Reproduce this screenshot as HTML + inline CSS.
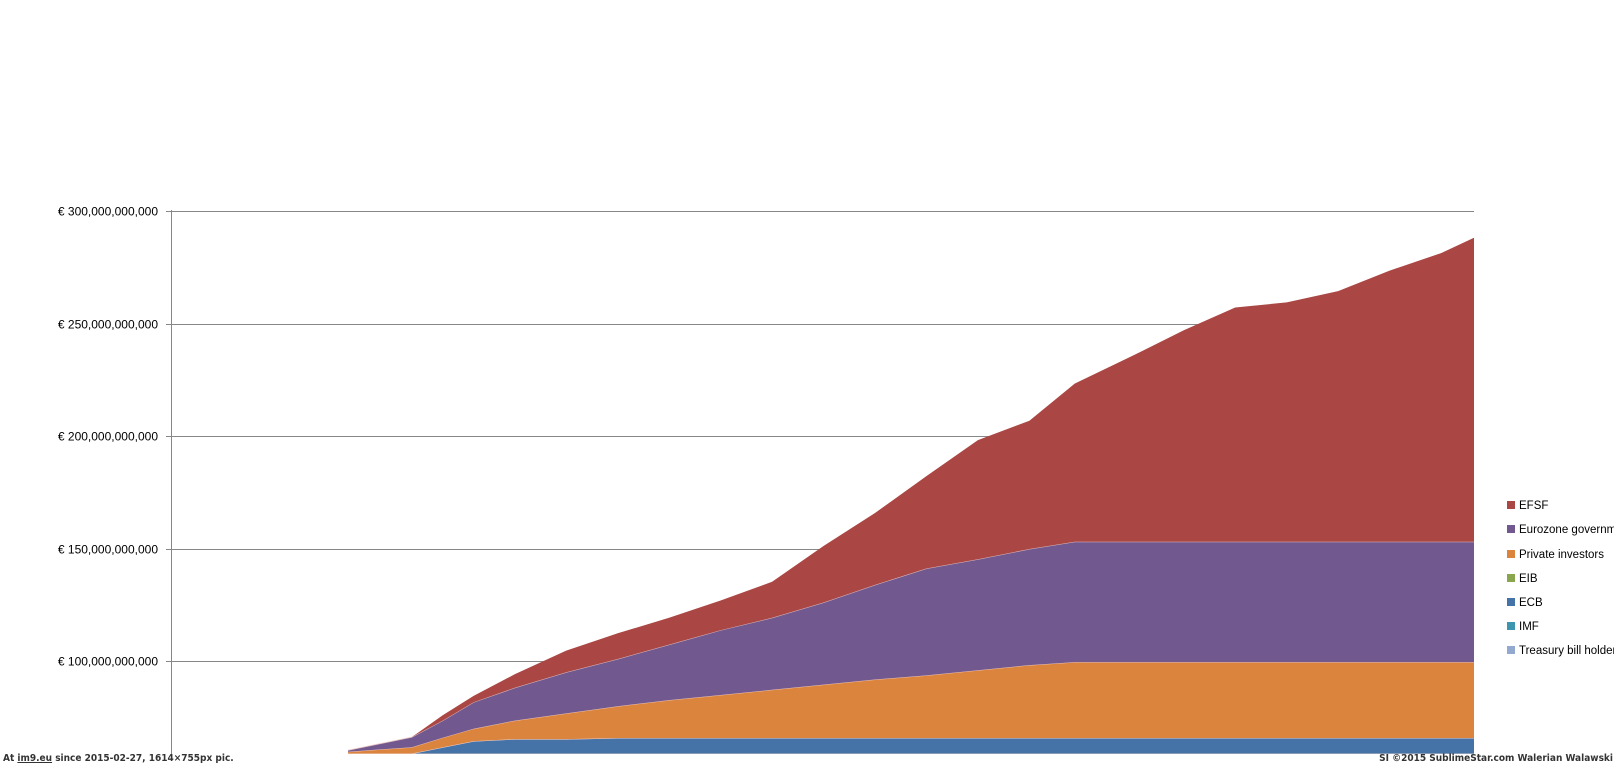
<!DOCTYPE html>
<html><head><meta charset="utf-8">
<style>
html,body{margin:0;padding:0;background:#fff;width:1614px;height:767px;overflow:hidden;}
body{position:relative;font-family:"Liberation Sans",sans-serif;}
svg{position:absolute;left:0;top:0;overflow:hidden;}
.foot{position:absolute;font:bold 10px "DejaVu Sans Condensed","Liberation Sans",sans-serif;color:#333;top:753px;height:12px;line-height:12px;white-space:nowrap;overflow:hidden;}
</style></head>
<body>
<svg id="chart" width="1614" height="767"></svg>
<div class="foot" style="left:3px">At <u>im9.eu</u> since 2015-02-27, 1614×755px pic.</div>
<div class="foot" style="right:1px">SI ©2015 SublimeStar.com Walerian Walawski</div>
<script>
// x positions in time (index units 0..1094)
const tIndex = [0,62,92,122,162,212,262,312,362,412,462,512,562,612,662,706,762,812,862,912,962,1012,1062,1094];
const treasury = [30,30,30,30,30,30,30,30,30,30,30,30,30,30,30,30,30,30,30,30,30,30,30,30];
const imf      = [28.9,28.9,28.9,28.9,28.9,28.9,28.9,28.9,28.9,28.9,28.9,28.9,28.9,28.9,28.9,28.9,28.9,28.9,28.9,28.9,28.9,28.9,28.9,28.9];
const ecb      = [0,0,2.8,5.5,6.4,6.4,6.9,6.9,6.9,6.9,6.9,6.9,6.9,6.9,6.9,6.9,6.9,6.9,6.9,6.9,6.9,6.9,6.9,6.9];
const eib      = [0,0,0,0,0,0,0,0,0,0,0,0,0,0,0,0,0,0,0,0,0,0,0,0];
const privateInv=[0.8,2.8,4.2,5.5,8.2,11.4,14.1,16.8,19.1,21.4,23.7,26.0,27.8,30.1,32.4,33.7,33.7,33.7,33.7,33.7,33.7,33.7,33.7,33.7];
const eurozone = [0.6,4.5,7.6,11.8,14.6,18.3,21.0,24.7,28.8,32.0,36.5,42.0,47.5,49.3,51.6,53.5,53.5,53.5,53.5,53.5,53.5,53.5,53.5,53.5];
const efsf     = [0,0,2.4,2.8,6.0,9.6,11.4,11.9,13.2,16.0,25.1,32.0,41.1,53.0,57.0,70.3,82.6,94.0,104.1,106.4,111.4,120.5,128.3,135.1];
const yTicks = [100,150,200,250,300];
const yTickLabels = ["€ 100,000,000,000","€ 150,000,000,000","€ 200,000,000,000","€ 250,000,000,000","€ 300,000,000,000"];
const seriesNames = ["EFSF","Eurozone governments","Private investors","EIB","ECB","IMF","Treasury bill holders"];

const NS="http://www.w3.org/2000/svg";
const svg=document.getElementById('chart');
const X0=171,X1=1474,T0=348,TMAX=1094,BOTTOM=754;
function xScale(t){return T0+(t/TMAX)*(X1-T0);}
function yScale(v){return 661-(v-100)*2.25;}
function mk(tag,attrs){const e=document.createElementNS(NS,tag);for(const k in attrs)e.setAttribute(k,attrs[k]);svg.appendChild(e);return e;}

const defs=mk('defs',{});
const cp=document.createElementNS(NS,'clipPath');cp.setAttribute('id','plotclip');
const cr=document.createElementNS(NS,'rect');cr.setAttribute('x',X0);cr.setAttribute('y',0);cr.setAttribute('width',X1-X0+1);cr.setAttribute('height',BOTTOM);
cp.appendChild(cr);defs.appendChild(cp);

yTicks.forEach((v,i)=>{
  const y=Math.round(yScale(v))+0.5;
  const g=mk('line',{x1:X0-5,x2:X1,y1:y,y2:y,stroke:'#878787','stroke-width':1});
  
  
  const t=mk('text',{x:158,y:y+4,'text-anchor':'end','font-size':'12','font-family':'Liberation Sans, sans-serif',fill:'#000'});
  t.textContent=yTickLabels[i];
  
  
});

const layers=[treasury,imf,ecb,eib,privateInv,eurozone,efsf];
const colors=["#93A9CF","#3D96AE","#4572A7","#89A54E","#DB843D","#71588F","#AA4643"];
const layerNames=["area-treasury-bill-holders","area-imf","area-ecb","area-eib","area-private-investors","area-eurozone-governments","area-efsf"];
const g=mk('g',{'clip-path':'url(#plotclip)'});


let lower=tIndex.map(()=>0);
layers.forEach((arr,li)=>{
  const upper=lower.map((v,i)=>v+arr[i]);
  let d='';
  tIndex.forEach((t,i)=>{d+=(i?'L':'M')+xScale(t).toFixed(1)+','+yScale(upper[i]).toFixed(1);});
  for(let i=tIndex.length-1;i>=0;i--){d+='L'+xScale(tIndex[i]).toFixed(1)+','+yScale(lower[i]).toFixed(1);}
  d+='Z';
  const p=document.createElementNS(NS,'path');
  p.setAttribute('d',d);p.setAttribute('fill',colors[li]);
  
  
  g.appendChild(p);
  let ld='';
  tIndex.forEach((t,i)=>{ld+=(i?'L':'M')+xScale(t).toFixed(1)+','+yScale(upper[i]).toFixed(1);});
  const l=document.createElementNS(NS,'path');
  l.setAttribute('d',ld);l.setAttribute('fill','none');l.setAttribute('stroke','#f2d0c8');l.setAttribute('stroke-width','1');l.setAttribute('stroke-opacity',li==6?'0':'0.8');
  
  
  g.appendChild(l);
  lower=upper;
});

const ax=mk('line',{x1:X0+0.5,x2:X0+0.5,y1:210,y2:BOTTOM,stroke:'#878787','stroke-width':1});



const legY=[505,529,554,578,602,626,650];
seriesNames.forEach((n,i)=>{
  const r=mk('rect',{x:1507,y:legY[i]-4,width:8,height:8,fill:colors[6-i]});
  
  
  const t=mk('text',{x:1519,y:legY[i]+4,'font-size':'11.5','font-family':'Liberation Sans, sans-serif',fill:'#000'});
  t.textContent=n;
  
  
});
</script>
</body></html>
